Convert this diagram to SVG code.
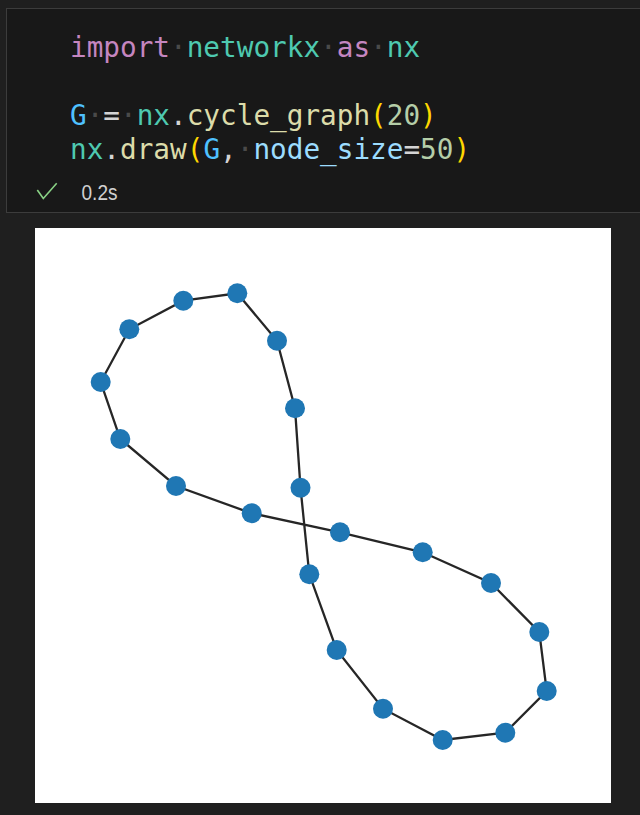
<svg xmlns="http://www.w3.org/2000/svg" width="640" height="815" viewBox="0 0 640 815">
<style>
.code{font-family:"DejaVu Sans Mono","Liberation Mono",monospace;font-size:27.7px}
.kw{fill:#c586c0}.mod{fill:#4ec9b0}.var{fill:#4fc1ff}.op{fill:#d4d4d4}.fn{fill:#dcdcaa}.br{fill:#ffd700}.num{fill:#b5cea8}.prm{fill:#9cdcfe}.ws{fill:#4a4a4a}
.edge{stroke:#000;stroke-opacity:0.85;stroke-width:2.3;fill:none}
.node circle{fill:#1f77b4}
</style>
<rect x="0" y="0" width="640" height="815" fill="#1f1f1f"/>
<rect x="6.5" y="8.5" width="700" height="204" fill="#181818" stroke="#3c3c3c" stroke-width="1"/>
<text class="code" x="70" y="56.5"><tspan class="kw">import</tspan><tspan class="ws">·</tspan><tspan class="mod">networkx</tspan><tspan class="ws">·</tspan><tspan class="kw">as</tspan><tspan class="ws">·</tspan><tspan class="mod">nx</tspan></text>
<text class="code" x="70" y="124.5"><tspan class="var">G</tspan><tspan class="ws">·</tspan><tspan class="op">=</tspan><tspan class="ws">·</tspan><tspan class="mod">nx</tspan><tspan class="op">.</tspan><tspan class="fn">cycle_graph</tspan><tspan class="br">(</tspan><tspan class="num">20</tspan><tspan class="br">)</tspan></text>
<text class="code" x="70" y="158.5"><tspan class="mod">nx</tspan><tspan class="op">.</tspan><tspan class="fn">draw</tspan><tspan class="br">(</tspan><tspan class="var">G</tspan><tspan class="op">,</tspan><tspan class="ws">·</tspan><tspan class="prm">node_size</tspan><tspan class="op">=</tspan><tspan class="num">50</tspan><tspan class="br">)</tspan></text>
<polyline points="37.3,190 43.3,198.5 56.7,183.3" fill="none" stroke="#89d185" stroke-width="1.6"/>
<text x="81.5" y="200" font-family="'Liberation Sans','Noto Sans',sans-serif" font-size="21.5" fill="#d0d0d0" textLength="36" lengthAdjust="spacingAndGlyphs">0.2s</text>
<rect x="35" y="228" width="576" height="575" fill="#ffffff"/>
<g id="edges">
<polyline class="edge" points="251.7,513.3 340,532.3 422.7,552.3 491,583 539.3,632 546.7,691 505.3,732.7 442.7,740 383,708.7 336.7,650 309.3,574.3 300.5,487.7 295,408.3 277,340.7 237.3,293.3 183.3,300.7 129.3,329.3 100.7,382 120.3,439 176,486 251.7,513.3"/>
</g>
<g id="nodes">
<g class="node" id="n0"><circle cx="251.7" cy="513.3" r="10"/></g>
<g class="node" id="n1"><circle cx="340" cy="532.3" r="10"/></g>
<g class="node" id="n2"><circle cx="422.7" cy="552.3" r="10"/></g>
<g class="node" id="n3"><circle cx="491" cy="583" r="10"/></g>
<g class="node" id="n4"><circle cx="539.3" cy="632" r="10"/></g>
<g class="node" id="n5"><circle cx="546.7" cy="691" r="10"/></g>
<g class="node" id="n6"><circle cx="505.3" cy="732.7" r="10"/></g>
<g class="node" id="n7"><circle cx="442.7" cy="740" r="10"/></g>
<g class="node" id="n8"><circle cx="383" cy="708.7" r="10"/></g>
<g class="node" id="n9"><circle cx="336.7" cy="650" r="10"/></g>
<g class="node" id="n10"><circle cx="309.3" cy="574.3" r="10"/></g>
<g class="node" id="n11"><circle cx="300.5" cy="487.7" r="10"/></g>
<g class="node" id="n12"><circle cx="295" cy="408.3" r="10"/></g>
<g class="node" id="n13"><circle cx="277" cy="340.7" r="10"/></g>
<g class="node" id="n14"><circle cx="237.3" cy="293.3" r="10"/></g>
<g class="node" id="n15"><circle cx="183.3" cy="300.7" r="10"/></g>
<g class="node" id="n16"><circle cx="129.3" cy="329.3" r="10"/></g>
<g class="node" id="n17"><circle cx="100.7" cy="382" r="10"/></g>
<g class="node" id="n18"><circle cx="120.3" cy="439" r="10"/></g>
<g class="node" id="n19"><circle cx="176" cy="486" r="10"/></g>
</g>
</svg>
